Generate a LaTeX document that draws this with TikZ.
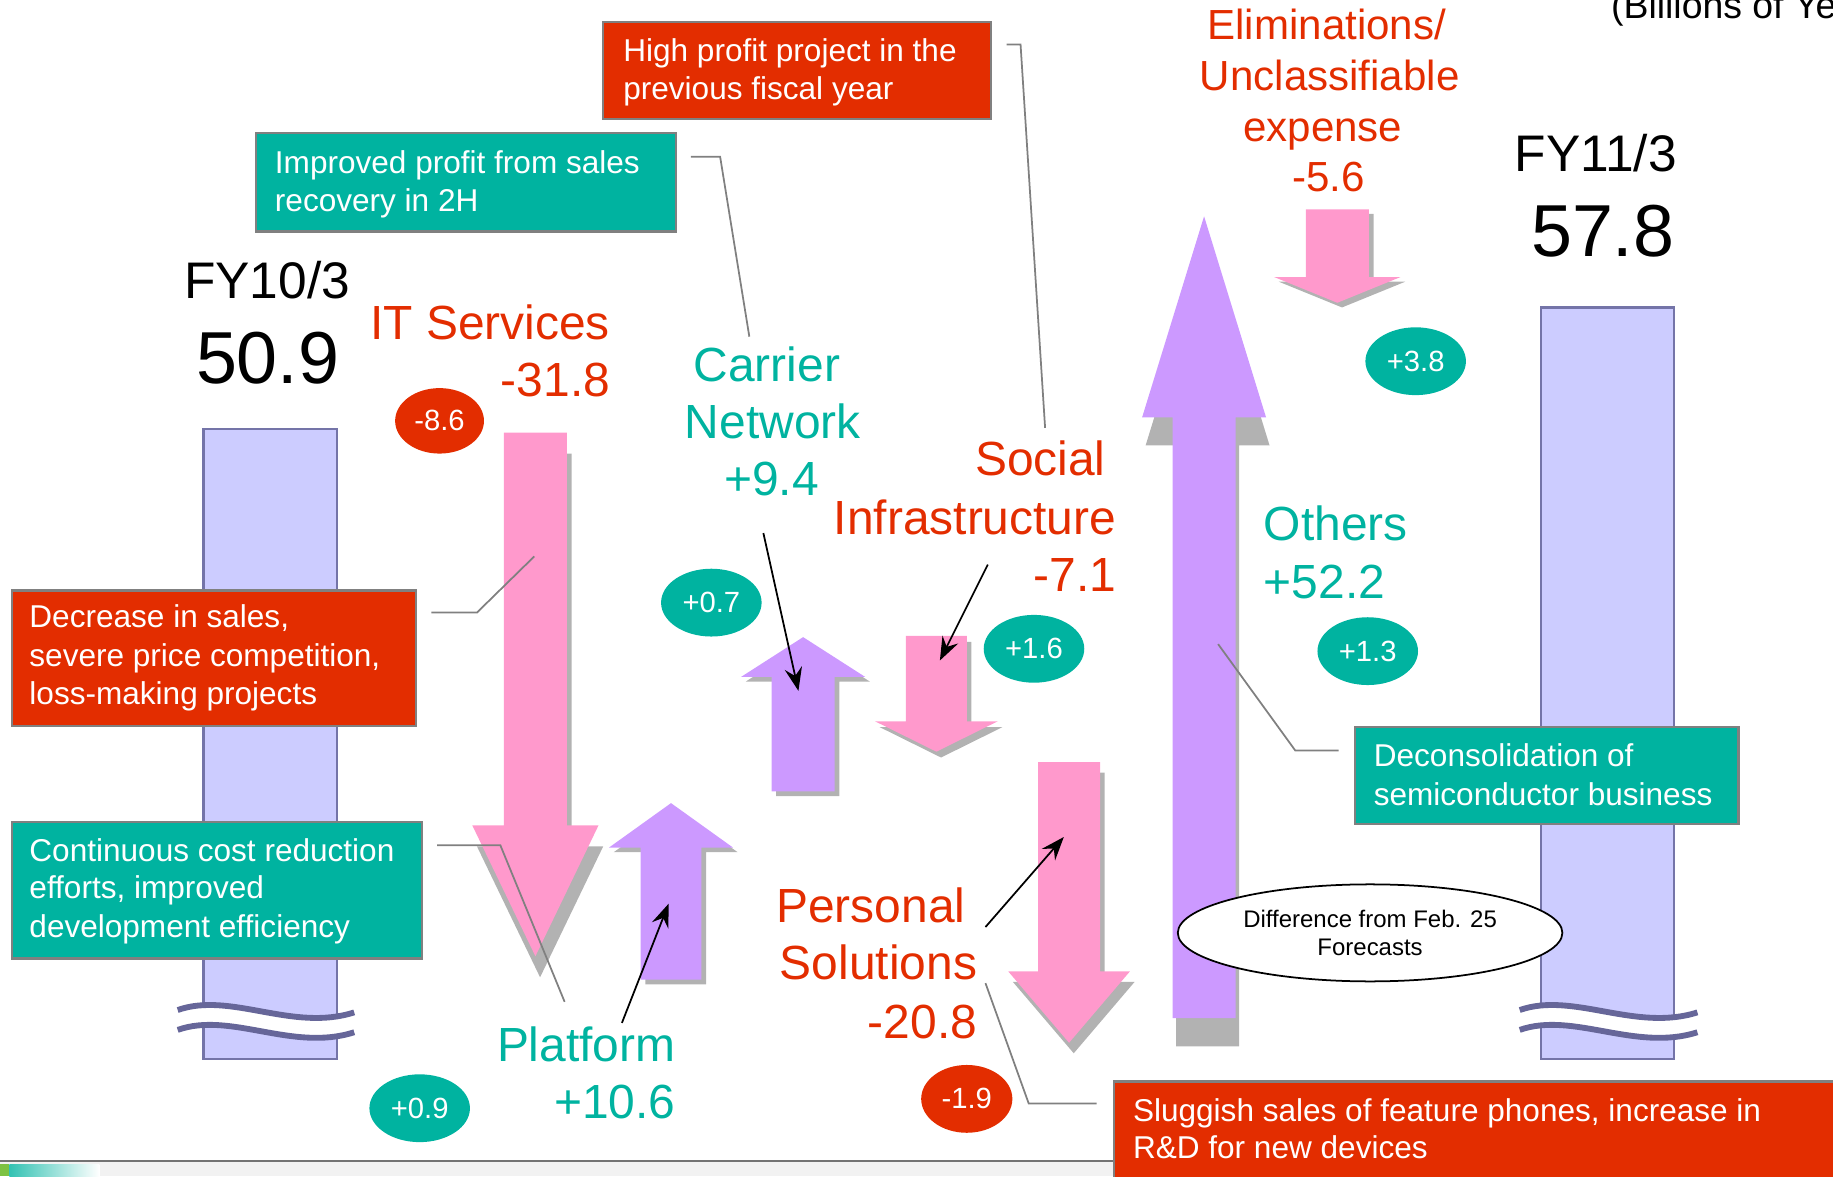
\documentclass[tikz,border=0pt]{standalone}
\usepackage{fontspec}
\setmainfont{Liberation Sans}
\usetikzlibrary{shapes.geometric,arrows.meta}

\definecolor{nred}{RGB}{227,45,0}
\definecolor{nteal}{RGB}{0,179,160}
\definecolor{npink}{RGB}{255,153,204}
\definecolor{npurple}{RGB}{204,153,255}
\definecolor{nbar}{RGB}{204,204,255}
\definecolor{nbarline}{RGB}{116,116,168}
\definecolor{nwave}{RGB}{102,102,153}
\definecolor{nshadow}{RGB}{178,178,178}
\definecolor{nframe}{RGB}{128,128,128}
\definecolor{ngreen}{RGB}{125,194,66}

\newcommand{\fsz}[2]{\fontsize{#1}{#2}\selectfont}

\tikzset{
  % block arrow: centre x, tip y, head base y, tail y, half shaft width, half head width
  blockarr/.style n args={6}{insert path={(#1,#2) -- ({#1+#6},#3) -- ({#1+#5},#3) -- ({#1+#5},#4) -- ({#1-#5},#4) -- ({#1-#5},#3) -- ({#1-#6},#3) -- cycle}},
  callbox/.style={rectangle, draw=nframe, line width=2pt, inner sep=0pt, anchor=north west},
  boxtxt/.style={inner sep=0pt, anchor=base west, text=white, font=\fsz{27}{32}},
  seglabel/.style={inner sep=0pt, font=\fsz{41}{49}},
  elimlabel/.style={inner sep=0pt, anchor=base, text=nred, font=\fsz{36}{43}},
  bubble/.style={ellipse, inner sep=0pt, minimum width=86pt, minimum height=58pt, text=white, font=\fsz{25}{29}},
  leader/.style={draw=nframe, line width=1.5pt},
  pointer/.style={draw=black, line width=1.5pt, -{Stealth[length=20pt,width=15pt,inset=7pt]}},
  ybar/.style={fill=nbar, draw=nbarline, line width=2pt},
  breakline/.style={draw=nwave, line width=5pt},
}

\begin{document}
\begin{tikzpicture}[x=1pt,y=-1pt]
\useasboundingbox (0,0) rectangle (1568,1006);

% footer band
\fill[black!5] (0,993) rectangle (1568,1006);
\fill[ngreen] (0,996) rectangle (8,1006);
\shade[left color=nteal!80, right color=white] (8,996) rectangle (85,1006);
\draw[line width=2pt, draw=black!55] (0,993) -- (1568,993);

% unit note
\node[inner sep=0pt, anchor=base west, font=\fsz{32}{38}] (unit) at (1378,16) {(Billions of Yen)};

% year bars
\draw[ybar] (174,367) rectangle (288,906);
\draw[ybar] (1318,263) rectangle (1432,906);

% axis breaks
\fill[white] (152,864) .. controls (197.3,848) and (250.2,883) .. (303,866) -- (303,883) .. controls (250.2,900) and (197.3,865) .. (152,881) -- cycle;
\draw[breakline] (152,864) .. controls (197.3,848) and (250.2,883) .. (303,866);
\draw[breakline] (152,881) .. controls (197.3,865) and (250.2,900) .. (303,883);
\fill[white] (1300,864) .. controls (1345.6,848) and (1398.8,883) .. (1452,866) -- (1452,883) .. controls (1398.8,900) and (1345.6,865) .. (1300,881) -- cycle;
\draw[breakline] (1300,864) .. controls (1345.6,848) and (1398.8,883) .. (1452,866);
\draw[breakline] (1300,881) .. controls (1345.6,865) and (1398.8,900) .. (1452,883);

% year labels
\node[inner sep=0pt, anchor=base, font=\fsz{44}{52}] (fy10) at (228.5,255) {FY10/3};
\node[inner sep=0pt, anchor=base, font=\fsz{63}{75}] (v10) at (229,328) {50.9};
\node[inner sep=0pt, anchor=base, font=\fsz{44}{52}] (fy11) at (1365,147) {FY11/3};
\node[inner sep=0pt, anchor=base, font=\fsz{63}{75}] (v11) at (1371,219.5) {57.8};

% block arrows: shadows first, then fills
\fill[nshadow, shift={(4,18)}, blockarr={458}{818}{706}{370}{27}{54}];
\fill[npink, blockarr={458}{818}{706}{370}{27}{54}];
\fill[nshadow, shift={(4,4)}, blockarr={574}{687}{725}{838}{26}{53}];
\fill[npurple, blockarr={574}{687}{725}{838}{26}{53}];
\fill[nshadow, shift={(4,4)}, blockarr={687}{545}{579}{677}{27}{53}];
\fill[npurple, blockarr={687}{545}{579}{677}{27}{53}];
\fill[nshadow, shift={(4,5)}, blockarr={801}{643}{617}{544}{26}{52.5}];
\fill[npink, blockarr={801}{643}{617}{544}{26}{52.5}];
\fill[nshadow, shift={(4,9)}, blockarr={914.5}{892}{831}{652}{26.5}{52}];
\fill[npink, blockarr={914.5}{892}{831}{652}{26.5}{52}];
\fill[nshadow, shift={(3,24)}, blockarr={1030}{185}{357}{871}{27}{53}];
\fill[npurple, blockarr={1030}{185}{357}{871}{27}{53}];
\fill[nshadow, shift={(4,4)}, blockarr={1144}{259}{237}{179}{27}{54}];
\fill[npink, blockarr={1144}{259}{237}{179}{27}{54}];

% callout boxes
\node[callbox, fill=nred, minimum width=332pt, minimum height=83pt] (hp) at (515,18) {};
\node[boxtxt] (hp1) at (533,53) {High profit project in the};
\node[boxtxt] (hp2) at (533,85) {previous fiscal year};

\node[callbox, fill=nteal, minimum width=359pt, minimum height=84pt] (imp) at (218,113) {};
\node[boxtxt] (imp1) at (235,148) {Improved profit from sales};
\node[boxtxt] (imp2) at (235,181) {recovery in 2H};

\node[callbox, fill=nred, minimum width=346pt, minimum height=116pt] (dec) at (9,504) {};
\node[boxtxt] (dec1) at (25,537) {Decrease in sales,};
\node[boxtxt] (dec2) at (25,570) {severe price competition,};
\node[boxtxt] (dec3) at (25,603) {loss-making projects};

\node[callbox, fill=nteal, minimum width=351pt, minimum height=117pt] (cont) at (9,702) {};
\node[boxtxt] (cont1) at (25,737) {Continuous cost reduction};
\node[boxtxt] (cont2) at (25,769) {efforts, improved};
\node[boxtxt] (cont3) at (25,802) {development efficiency};

\node[callbox, fill=nteal, minimum width=328pt, minimum height=83pt] (deco) at (1158,621) {};
\node[boxtxt] (deco1) at (1175,656) {Deconsolidation of};
\node[boxtxt] (deco2) at (1175,689) {semiconductor business};

\node[callbox, fill=nred, minimum width=640pt, minimum height=100pt] (slug) at (952,924) {};
\node[boxtxt] (slug1) at (969,959) {Sluggish sales of feature phones, increase in};
\node[boxtxt] (slug2) at (969,991) {R\&D for new devices};

% leader lines from callouts to the arrows
\coordinate (imp-a) at (591,134);  \coordinate (imp-b) at (616,134);  \coordinate (imp-c) at (641,288);
\coordinate (hp-a) at (861,38);    \coordinate (hp-b) at (873,38);    \coordinate (hp-c) at (894,366);
\coordinate (dec-a) at (369,524);  \coordinate (dec-b) at (408,524);  \coordinate (dec-c) at (457,476);
\coordinate (cont-a) at (374,723); \coordinate (cont-b) at (428,723); \coordinate (cont-c) at (483,857);
\coordinate (deco-a) at (1145,642); \coordinate (deco-b) at (1108,642); \coordinate (deco-c) at (1042,551);
\coordinate (slug-a) at (938,944); \coordinate (slug-b) at (880,944); \coordinate (slug-c) at (843,841);
\draw[leader] (imp-a) -- (imp-b) -- (imp-c);
\draw[leader] (hp-a) -- (hp-b) -- (hp-c);
\draw[leader] (dec-a) -- (dec-b) -- (dec-c);
\draw[leader] (cont-a) -- (cont-b) -- (cont-c);
\draw[leader] (deco-a) -- (deco-b) -- (deco-c);
\draw[leader] (slug-a) -- (slug-b) -- (slug-c);

% segment labels
\node[seglabel, anchor=base east, text=nred] (its1) at (522,290) {IT Services};
\node[seglabel, anchor=base east, text=nred] (its2) at (522,339) {-31.8};

\node[seglabel, anchor=base, text=nteal] (cn1) at (656,326) {Carrier};
\node[seglabel, anchor=base, text=nteal] (cn2) at (661,375) {Network};
\node[seglabel, anchor=base, text=nteal] (cn3) at (660,424) {+9.4};

\node[seglabel, anchor=base east, text=nred] (si1) at (946,407) {Social};
\node[seglabel, anchor=base east, text=nred] (si2) at (955,457.5) {Infrastructure};
\node[seglabel, anchor=base east, text=nred] (si3) at (955,506) {-7.1};

\node[seglabel, anchor=base east, text=nred] (ps1) at (826,789) {Personal};
\node[seglabel, anchor=base east, text=nred] (ps2) at (836,838) {Solutions};
\node[seglabel, anchor=base east, text=nred] (ps3) at (836,888) {-20.8};

\node[seglabel, anchor=base east, text=nteal] (pf1) at (578,908) {Platform};
\node[seglabel, anchor=base east, text=nteal] (pf2) at (578,957) {+10.6};

\node[seglabel, anchor=base west, text=nteal] (ot1) at (1081,462) {Others};
\node[seglabel, anchor=base west, text=nteal] (ot2) at (1081,512) {+52.2};

\node[elimlabel] (el1) at (1135,34) {Eliminations/};
\node[elimlabel] (el2) at (1137.5,77.5) {Unclassifiable};
\node[elimlabel] (el3) at (1131.5,121) {expense};
\node[elimlabel] (el4) at (1136.5,164) {-5.6};

% differences from forecasts
\node[bubble, fill=nred, minimum width=76pt, minimum height=56pt] (b1) at (376,360) {-8.6};
\node[bubble, fill=nteal] (b2) at (608.5,515.5) {+0.7};
\node[bubble, fill=nteal] (b3) at (884.5,555) {+1.6};
\node[bubble, fill=nteal] (b4) at (1211,309) {+3.8};
\node[bubble, fill=nteal] (b5) at (1170,557) {+1.3};
\node[bubble, fill=nteal] (b6) at (359,948) {+0.9};
\node[bubble, fill=nred, minimum width=78pt] (b7) at (827,940) {-1.9};

% pointers from labels to their arrows
\coordinate (cn-p) at (653,456);  \coordinate (cn-t) at (683,591);
\coordinate (si-p) at (845,483);  \coordinate (si-t) at (804,565);
\coordinate (pf-p) at (532,875);  \coordinate (pf-t) at (572,773);
\coordinate (ps-p) at (843,793);  \coordinate (ps-t) at (910,716);
\draw[pointer] (cn-p) -- (cn-t);
\draw[pointer] (si-p) -- (si-t);
\draw[pointer] (pf-p) -- (pf-t);
\draw[pointer] (ps-p) -- (ps-t);

% legend bubble
\node[ellipse, draw=black, line width=1.5pt, fill=white, minimum width=329pt, minimum height=83pt, inner sep=0pt, align=center, font=\fsz{20.5}{24}] (diff) at (1172,798) {Difference from Feb. 25\\Forecasts};
\end{tikzpicture}
\end{document}
